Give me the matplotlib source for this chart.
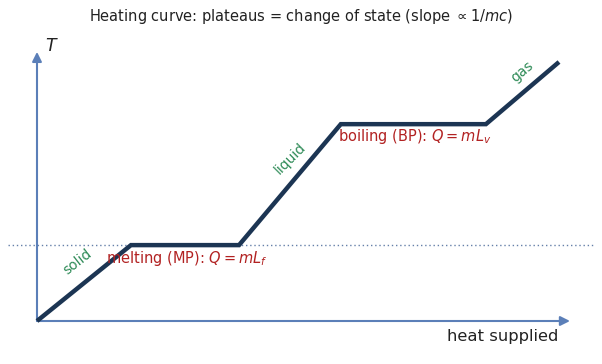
import matplotlib
matplotlib.use("Agg")
import matplotlib.pyplot as plt

# Data (heat supplied, temperature) for heating curve
heat = [0, 1.8, 3.87, 5.82, 8.6, 10.0]
temp = [0, 2.93, 2.93, 7.6, 7.6, 10.0]
mp_temp = 2.93

W, H = 602, 364
fig = plt.figure(figsize=(W/100, H/100), dpi=100)
# axes spanning pixel x 8..594, y 30..350
ax = fig.add_axes([8/W, 1-350/H, (594-8)/W, (350-30)/H])
sx = 52.2
sy = 25.9
ax.set_xlim((8-37)/sx, (594-37)/sx)
ax.set_ylim((321-350)/sy, (321-30)/sy)
ax.axis('off')

axis_col = '#5b7fb8'
ax.annotate('', xy=(10.21, 0), xytext=(0, 0),
            arrowprops=dict(arrowstyle='-|>', color=axis_col, lw=1.5,
                            mutation_scale=14, shrinkA=0, shrinkB=0))
ax.annotate('', xy=(0, 10.39), xytext=(0, 0),
            arrowprops=dict(arrowstyle='-|>', color=axis_col, lw=1.5,
                            mutation_scale=14, shrinkA=0, shrinkB=0))

ax.axhline(mp_temp, color='#4a6a9a', lw=1.0, ls=(0, (1, 2)), alpha=0.85, zorder=1)
ax.plot(heat, temp, color='#1c3553', lw=3.2, solid_joinstyle='miter',
        solid_capstyle='butt', zorder=3)

ax.text(0.15, 10.62, '$T$', fontsize=12.5, color='#222222', ha='left', va='center')
ax.text(9.98, -0.58, 'heat supplied', fontsize=11.8, color='#222222', ha='right', va='center')

green = '#2e8b57'
ax.text(0.77, 2.28, 'solid', color=green, fontsize=10, rotation=38, ha='center', va='center')
ax.text(4.85, 6.29, 'liquid', color=green, fontsize=10, rotation=45, ha='center', va='center')
ax.text(9.29, 9.61, 'gas', color=green, fontsize=10, rotation=40, ha='center', va='center')

red = '#b22222'
ax.text(1.32, 2.43, 'melting (MP): $Q = mL_f$', color=red, fontsize=10.5, ha='left', va='center')
ax.text(5.77, 7.12, 'boiling (BP): $Q = mL_v$', color=red, fontsize=10.5, ha='left', va='center')

fig.text(0.5, 1-16/H, r'Heating curve: plateaus = change of state (slope $\propto 1/mc$)',
         fontsize=10.5, color='#222222', ha='center', va='center')

fig.savefig('out.png', dpi=100)
